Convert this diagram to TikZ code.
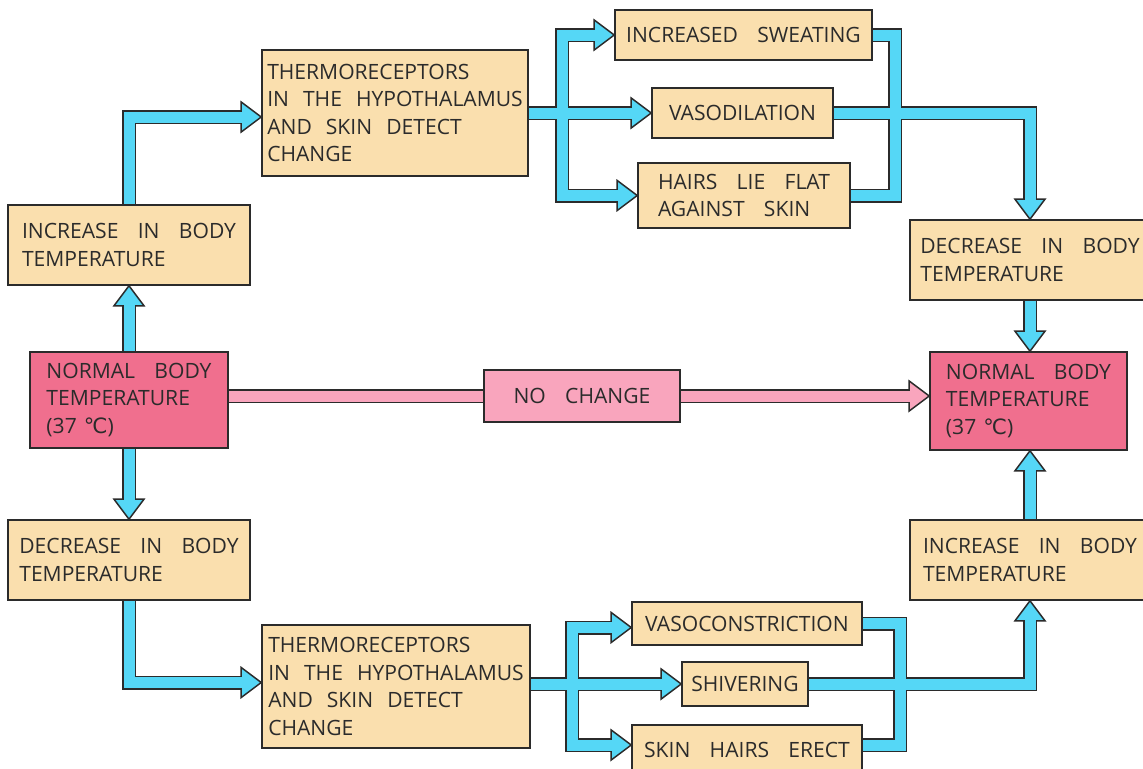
\documentclass[tikz,border=0pt]{standalone}
\usepackage{fontspec}
\setmainfont{Open Sans}
\newfontfamily\djv{DejaVu Sans}
\usetikzlibrary{backgrounds,calc}
\definecolor{peach}{HTML}{FADFAE}
\definecolor{rosy}{HTML}{F06F8E}
\definecolor{lpink}{HTML}{F9A5BD}
\definecolor{cy}{HTML}{55D7F6}
\definecolor{ink}{HTML}{2B2B2B}
\newcommand\degc{{\djv ℃}}
\tikzset{
  box/.style={draw=ink, line width=0.9pt, fill=peach, inner sep=0pt, text=ink,
    font=\fontsize{12}{15.6}\selectfont,
    execute at begin node={\spaceskip=11pt plus 3pt minus 2pt\relax}},
  lbox/.style={box, align=left},
  tbox/.style={lbox, execute at begin node={\spaceskip=8pt plus 2pt minus 2pt\relax}},
  sh/.style={line width=0.28cm, draw=ink},
  sha/.style={sh, shorten >=0.34cm},
}
\newcommand\hd[3][cy]{\begin{scope}[shift={#2}, rotate=#3]
  \filldraw[fill=#1, draw=ink, line width=0.85pt, line join=miter] (0,0) -- (-20,-15) -- (-20,15) -- cycle;
  \end{scope}}
\begin{document}
\begin{tikzpicture}[x=0.02cm, y=-0.02cm]
\useasboundingbox (0,0) rectangle (1143,768);
% boxes
\node[lbox, minimum width=4.84cm, minimum height=1.6cm] (incL) at (129,245) {INCREASE IN BODY\\TEMPERATURE};
\node[lbox, fill=rosy, minimum width=3.96cm, minimum height=1.92cm] (normL) at (129,400) {NORMAL BODY\\TEMPERATURE\\{\spaceskip=4pt\relax(37 \degc)}};
\node[lbox, minimum width=4.84cm, minimum height=1.6cm] (decL) at (129,560) {DECREASE IN BODY\\TEMPERATURE};
\node[tbox, minimum width=5.32cm, minimum height=2.52cm] (thermT) at (395,113) {THERMORECEPTORS\\IN THE HYPOTHALAMUS\\AND SKIN DETECT\\CHANGE};
\node[box, minimum width=5.14cm, minimum height=1.0cm] (sweat) at (743.5,35) {INCREASED SWEATING};
\node[box, minimum width=3.62cm, minimum height=1.0cm] (vasod) at (742.5,113) {VASODILATION};
\node[lbox, minimum width=4.24cm, minimum height=1.3cm] (hairs) at (744,195.5) {HAIRS LIE FLAT\\AGAINST SKIN};
\node[lbox, minimum width=4.8cm, minimum height=1.6cm] (decR) at (1030,260) {DECREASE IN BODY\\TEMPERATURE};
\node[lbox, fill=rosy, minimum width=3.94cm, minimum height=1.96cm] (normR) at (1028.5,401) {NORMAL BODY\\TEMPERATURE\\{\spaceskip=4pt\relax(37 \degc)}};
\node[lbox, minimum width=4.8cm, minimum height=1.6cm] (incR) at (1030,560) {INCREASE IN BODY\\TEMPERATURE};
\node[tbox, minimum width=5.36cm, minimum height=2.46cm] (thermB) at (396,686.5) {THERMORECEPTORS\\IN THE HYPOTHALAMUS\\AND SKIN DETECT\\CHANGE};
\node[box, minimum width=4.6cm, minimum height=0.86cm] (vasoc) at (747,623.5) {VASOCONSTRICTION};
\node[box, minimum width=2.52cm, minimum height=0.88cm] (shiv) at (745,684) {SHIVERING};
\node[box, minimum width=4.6cm, minimum height=1.0cm] (skin) at (747,750) {SKIN HAIRS ERECT};
\node[box, fill=lpink, minimum width=3.92cm, minimum height=1.04cm] (noch) at (582,396) {NO CHANGE};
% junctions
\coordinate (jT) at (562,113);
\coordinate (jB) at (572,684);
\coordinate (mR) at (895,113);
\coordinate (mB) at (900,684);
\coordinate (h2) at ($(thermT.west)+(0,4)$);
\coordinate (h4) at ($(thermB.west)+(0,-4)$);
\coordinate (h14) at ($(vasoc.west)+(0,4)$);
\coordinate (h15) at ($(skin.west)+(0,-5)$);
\coordinate (s17) at ($(skin.east)+(0,-5)$);
\newcommand\cyanpaths{%
  \draw[sha] (normL.north) -- (normL.north |- incL.south);
  \draw[sha] (incL.north) |- (h2);
  \draw[sha] (normL.south) -- (normL.south |- decL.north);
  \draw[sha] (decL.south) |- (h4);
  \draw[sha] (thermT.east |- vasod.west) -- (vasod.west);
  \draw[sha] (jT) |- (sweat.west);
  \draw[sha] (jT) |- (hairs.west);
  \draw[sh] (sweat.east) -| (mR);
  \draw[sh] (hairs.east) -| (mR);
  \draw[sha] (vasod.east) -| (decR.north);
  \draw[sha] (decR.south) -- (decR.south |- normR.north);
  \draw[sha] (incR.north) -- (incR.north |- normR.south);
  \draw[sha] (thermB.east |- shiv.west) -- (shiv.west);
  \draw[sha] (jB) |- (h14);
  \draw[sha] (jB) |- (h15);
  \draw[sh] (vasoc.east) -| (mB);
  \draw[sh] (s17) -| (mB);
  \draw[sha] (shiv.east) -| (incR.south);
}
\newcommand\pinkpaths{%
  \draw[sh] (normL.east |- noch.west) -- (noch.west);
  \draw[sha] (noch.east) -- (noch.east -| normR.west);
}
\begin{pgfonlayer}{background}
  \begin{scope}\cyanpaths\end{scope}
  \hd{(normL.north |- incL.south)}{90}
  \hd{(h2)}{0}
  \hd{(normL.south |- decL.north)}{-90}
  \hd{(h4)}{0}
  \hd{(vasod.west)}{0}
  \hd{(sweat.west)}{0}
  \hd{(hairs.west)}{0}
  \hd{(decR.north)}{-90}
  \hd{(decR.south |- normR.north)}{-90}
  \hd{(incR.north |- normR.south)}{90}
  \hd{(shiv.west)}{0}
  \hd{(h14)}{0}
  \hd{(h15)}{0}
  \hd{(incR.south)}{90}
  \begin{scope}[sh/.style={line width=0.22cm, draw=cy}]\cyanpaths\end{scope}
  \begin{scope}\pinkpaths\end{scope}
  \hd[lpink]{(noch.east -| normR.west)}{0}
  \begin{scope}[sh/.style={line width=0.22cm, draw=lpink}]\pinkpaths\end{scope}
\end{pgfonlayer}
\end{tikzpicture}
\end{document}
